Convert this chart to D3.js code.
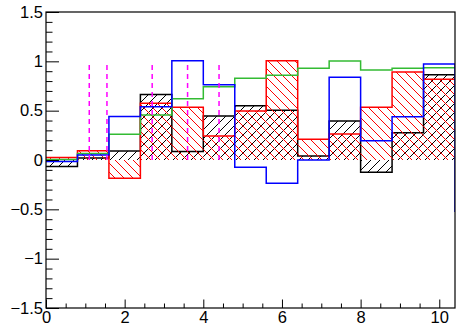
<!DOCTYPE html>
<html>
<head>
<meta charset="utf-8">
<script src="https://cdn.jsdelivr.net/npm/d3@7"></script>
<style>
  html, body { margin: 0; padding: 0; background: #fff; }
  svg { display: block; }
  text { font-family: "Liberation Sans", Arial, Helvetica, sans-serif; }
</style>
</head>
<body>
<svg id="chart" width="456" height="326"></svg>
<script>
// ---- data ----
const binEdges = [0, 0.8, 1.6, 2.4, 3.2, 4.0, 4.8, 5.6, 6.4, 7.2, 8.0, 8.8, 9.6, 10.4, 11.2];
const blackValues = [-0.065, 0.02, 0.09, 0.665, 0.085, 0.445, 0.55, 0.505, 0.04, 0.395, -0.125, 0.277, 0.865];
const redValues   = [0.025, 0.095, -0.185, 0.574, 0.534, 0.243, 0.496, 1.006, 0.21, 0.263, 0.534, 0.892, 0.818];
const greenValues = [0.005, 0.065, 0.26, 0.456, 0.62, 0.743, 0.828, 0.858, 0.929, 1.003, 0.912, 0.93, 0.935];
const blueValues  = [-0.015, 0.05, 0.44, 0.54, 1.006, 0.763, -0.074, -0.236, 0.0, 0.838, 0.196, 0.439, 0.973, -0.52];
const markerX = [1.1, 1.55, 2.7, 3.6, 4.4];
const markerRange = [0, 1];
const xMajorTicks = [0, 2, 4, 6, 8, 10];
const xMinorTicks = [0.5, 1, 1.5, 2.5, 3, 3.5, 4.5, 5, 5.5, 6.5, 7, 7.5, 8.5, 9, 9.5];
const yMajorTicks = [-1.5, -1, -0.5, 0, 0.5, 1, 1.5];
const yMinorTicks = [-1.4,-1.3,-1.2,-1.1,-0.9,-0.8,-0.7,-0.6,-0.4,-0.3,-0.2,-0.1,0.1,0.2,0.3,0.4,0.6,0.7,0.8,0.9,1.1,1.2,1.3,1.4];

// ---- layout ----
const frame = { left: 46, top: 12, right: 455, bottom: 308 };
const x = d3.scaleLinear().domain([0, 10.4]).range([frame.left, frame.right]);
const y = d3.scaleLinear().domain([-1.5, 1.5]).range([frame.bottom, frame.top]);

const svg = d3.select("#chart");
const defs = svg.append("defs");

defs.append("clipPath").attr("id", "frameClip")
  .append("rect")
  .attr("x", frame.left).attr("y", frame.top)
  .attr("width", frame.right - frame.left).attr("height", frame.bottom - frame.top);

function hatch(id, color, dir) {
  const s = 9;
  const p = defs.append("pattern").attr("id", id)
    .attr("patternUnits", "userSpaceOnUse")
    .attr("width", s).attr("height", s);
  const d = dir === "/"
    ? `M-2,2 L2,-2 M0,${s} L${s},0 M${s-2},${s+2} L${s+2},${s-2}`
    : `M0,0 L${s},${s} M-2,${s-2} L2,${s+2} M${s-2},-2 L${s+2},2`;
  p.append("path").attr("d", d).attr("stroke", color).attr("stroke-width", 1)
    .attr("fill", "none").attr("shape-rendering", "crispEdges");
}
hatch("hatchBlack", "#000", "/");
hatch("hatchRed", "#ff0000", "\\");

const plot = svg.append("g").attr("clip-path", "url(#frameClip)");

function drawHist(values, color, patternId) {
  const g = plot.append("g");
  if (patternId) {
    g.selectAll("rect").data(values).join("rect")
      .attr("x", (d, i) => x(binEdges[i]))
      .attr("width", (d, i) => x(binEdges[i + 1]) - x(binEdges[i]))
      .attr("y", d => y(Math.max(0, d)))
      .attr("height", d => Math.abs(y(d) - y(0)))
      .attr("fill", `url(#${patternId})`);
  }
  const pts = values.map((v, i) => [binEdges[i], v]);
  pts.push([binEdges[values.length], values[values.length - 1]]);
  const line = d3.line().x(d => x(d[0])).y(d => y(d[1])).curve(d3.curveStepAfter);
  g.append("path").attr("d", line(pts))
    .attr("fill", "none").attr("stroke", color).attr("stroke-width", 1.5);
}

drawHist(blackValues, "#000", "hatchBlack");
drawHist(redValues, "#ff0000", "hatchRed");
drawHist(greenValues, "#33bb33", null);
drawHist(blueValues, "#0000ff", null);

// magenta dashed markers
plot.append("g").selectAll("line").data(markerX).join("line")
  .attr("x1", d => x(d)).attr("x2", d => x(d))
  .attr("y1", y(markerRange[0])).attr("y2", y(markerRange[1]))
  .attr("stroke", "#ff00ff").attr("stroke-width", 1.5)
  .attr("stroke-dasharray", "5,4");

// axes
const fontSize = 16.5;
const fmt = d => (d < 0 ? "\u2212" : "") + Math.abs(d);

const yMajor = svg.append("g").attr("transform", `translate(${frame.left},0)`)
  .call(d3.axisLeft(y).tickValues(yMajorTicks).tickSize(-13).tickPadding(3).tickFormat(fmt));
const yMinor = svg.append("g").attr("transform", `translate(${frame.left},0)`)
  .call(d3.axisLeft(y).tickValues(yMinorTicks).tickSize(-6.5).tickFormat(""));
const xMajor = svg.append("g").attr("transform", `translate(0,${frame.bottom})`)
  .call(d3.axisBottom(x).tickValues(xMajorTicks).tickSize(-8.5).tickPadding(3.3).tickFormat(fmt));
const xMinor = svg.append("g").attr("transform", `translate(0,${frame.bottom})`)
  .call(d3.axisBottom(x).tickValues(xMinorTicks).tickSize(-4.5).tickFormat(""));

[yMajor, yMinor, xMajor, xMinor].forEach(g => {
  g.select(".domain").remove();
  g.selectAll("line").attr("stroke", "#000").attr("stroke-width", 1);
  g.selectAll("text").attr("font-size", fontSize).attr("fill", "#000")
    .attr("font-family", '"Liberation Sans", Arial, Helvetica, sans-serif');
});

// frame
svg.append("rect")
  .attr("x", frame.left).attr("y", frame.top)
  .attr("width", frame.right - frame.left).attr("height", frame.bottom - frame.top)
  .attr("fill", "none").attr("stroke", "#000").attr("stroke-width", 1.2);
</script>
</body>
</html>
